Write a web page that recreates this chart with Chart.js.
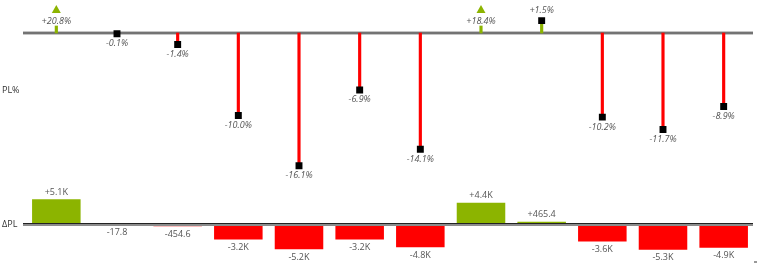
<!DOCTYPE html>
<html>
<head>
<meta charset="utf-8">
<script src="https://cdn.jsdelivr.net/npm/chart.js@4.4.1/dist/chart.umd.min.js"></script>
<style>
  html, body { margin: 0; padding: 0; background: #fff; }
  #wrap { position: relative; width: 758px; height: 265px; overflow: hidden; }
  canvas { position: absolute; left: 0; }
  #plChart { top: 0; }
  #dplChart { top: 180px; }
  .side { position: absolute; left: 2px; font: 9px 'Open Sans', sans-serif; color: #333; }
  .grip { position: absolute; left: 754px; top: 261px; width: 3px; height: 2px; background: #999; }
</style>
</head>
<body>
<div id="wrap">
  <canvas id="plChart" width="758" height="180"></canvas>
  <canvas id="dplChart" width="758" height="85"></canvas>
  <div class="side" style="top:83px">PL%</div>
  <div class="side" style="top:217px">ΔPL</div>
  <div class="grip"></div>
</div>
<script>
const categories = ['Jan', 'Feb', 'Mar', 'Apr', 'May', 'Jun', 'Jul', 'Aug', 'Sep', 'Oct', 'Nov', 'Dec'];
const plPercent = [20.8, -0.1, -1.4, -10.0, -16.1, -6.9, -14.1, 18.4, 1.5, -10.2, -11.7, -8.9];
const deltaPL = [5100, -17.8, -454.6, -3200, -5200, -3200, -4800, 4400, 465.4, -3600, -5300, -4900];

const GREEN = '#8cb400';
const RED = '#ff0000';
const LABEL = '#555';

// values above this get an arrow instead of a marker
const clipAt = 3;
const clipStem = 0.85;
const clipArrow = 2.75;

const isClipped = v => v > clipAt;

function fmtPct(v) {
  return (v > 0 ? '+' : '') + v.toFixed(1) + '%';
}
function fmtDelta(v) {
  const a = Math.abs(v);
  const s = a >= 1000 ? (a / 1000).toFixed(1) + 'K' : a.toFixed(1);
  return (v > 0 ? '+' : '-') + s;
}

const topAxis = {
  id: 'topAxis',
  beforeDatasetsDraw(chart) {
    const {ctx, chartArea, scales} = chart;
    const y = Math.round(scales.y.getPixelForValue(0));
    ctx.save();
    ctx.fillStyle = '#8c8c8c';
    ctx.fillRect(chartArea.left - 3, y - 1.5, chartArea.right - chartArea.left + 2, 3);
    ctx.fillStyle = '#5a5a5a';
    ctx.fillRect(chartArea.left - 3, y - 0.5, chartArea.right - chartArea.left + 2, 1);
    ctx.restore();
  },
  afterDatasetsDraw(chart) {
    const {ctx, scales} = chart;
    ctx.save();
    ctx.font = 'italic 9px "Open Sans", sans-serif';
    ctx.fillStyle = LABEL;
    ctx.textAlign = 'center';
    ctx.textBaseline = 'middle';
    plPercent.forEach((v, i) => {
      const x = scales.x.getPixelForValue(i);
      let y;
      if (isClipped(v)) {
        y = scales.y.getPixelForValue(1.45);
      } else if (v >= 0) {
        y = scales.y.getPixelForValue(v) - 10;
      } else {
        y = scales.y.getPixelForValue(v) + 10;
      }
      ctx.fillText(fmtPct(v), x, y);
    });
    ctx.restore();
  }
};

const bottomAxis = {
  id: 'bottomAxis',
  afterDatasetsDraw(chart) {
    const {ctx, chartArea, scales} = chart;
    const y = Math.round(scales.y.getPixelForValue(0));
    ctx.save();
    ctx.fillStyle = '#8c8c8c';
    ctx.fillRect(chartArea.left - 3, y, chartArea.right - chartArea.left + 2, 2);
    ctx.fillStyle = '#222';
    ctx.fillRect(chartArea.left - 3, y - 1, chartArea.right - chartArea.left + 2, 1);
    ctx.font = '9px "Open Sans", sans-serif';
    ctx.fillStyle = LABEL;
    ctx.textAlign = 'center';
    ctx.textBaseline = 'middle';
    deltaPL.forEach((v, i) => {
      const x = scales.x.getPixelForValue(i);
      const end = scales.y.getPixelForValue(v);
      ctx.fillText(fmtDelta(v), x, v >= 0 ? end - 7 : end + 8);
    });
    ctx.restore();
  }
};

const common = {
  responsive: false,
  animation: false,
  devicePixelRatio: 1,
  layout: { autoPadding: false, padding: { left: 26, right: 4, top: 0, bottom: 0 } },
  plugins: { legend: { display: false }, tooltip: { enabled: false } },
};

// top: lollipops
new Chart(document.getElementById('plChart'), {
  type: 'bar',
  data: {
    labels: categories,
    datasets: [
      {
        type: 'line',
        data: plPercent.map(v => isClipped(v) ? clipArrow : v),
        showLine: false,
        pointStyle: plPercent.map(v => isClipped(v) ? 'triangle' : 'rect'),
        pointRadius: plPercent.map(v => isClipped(v) ? 5.2 : 4.9),
        pointBackgroundColor: plPercent.map(v => isClipped(v) ? GREEN : '#000'),
        pointBorderWidth: 0,
        order: 0
      },
      {
        data: plPercent.map(v => [0, isClipped(v) ? clipStem : v]),
        backgroundColor: plPercent.map(v => v >= 0 ? GREEN : RED),
        barThickness: 2.5,
        order: 1
      }
    ]
  },
  options: {
    ...common,
    scales: {
      x: { display: false },
      y: { display: false, min: -17.82, max: 4.0 }
    }
  },
  plugins: [topAxis]
});

// bottom: delta bars
new Chart(document.getElementById('dplChart'), {
  type: 'bar',
  data: {
    labels: categories,
    datasets: [{
      data: deltaPL,
      backgroundColor: deltaPL.map(v => v >= 0 ? GREEN : RED),
      barPercentage: 0.8,
      categoryPercentage: 1.0
    }]
  },
  options: {
    ...common,
    scales: {
      x: { display: false },
      y: { display: false, min: -8454, max: 9072 }
    }
  },
  plugins: [bottomAxis]
});
</script>
</body>
</html>
